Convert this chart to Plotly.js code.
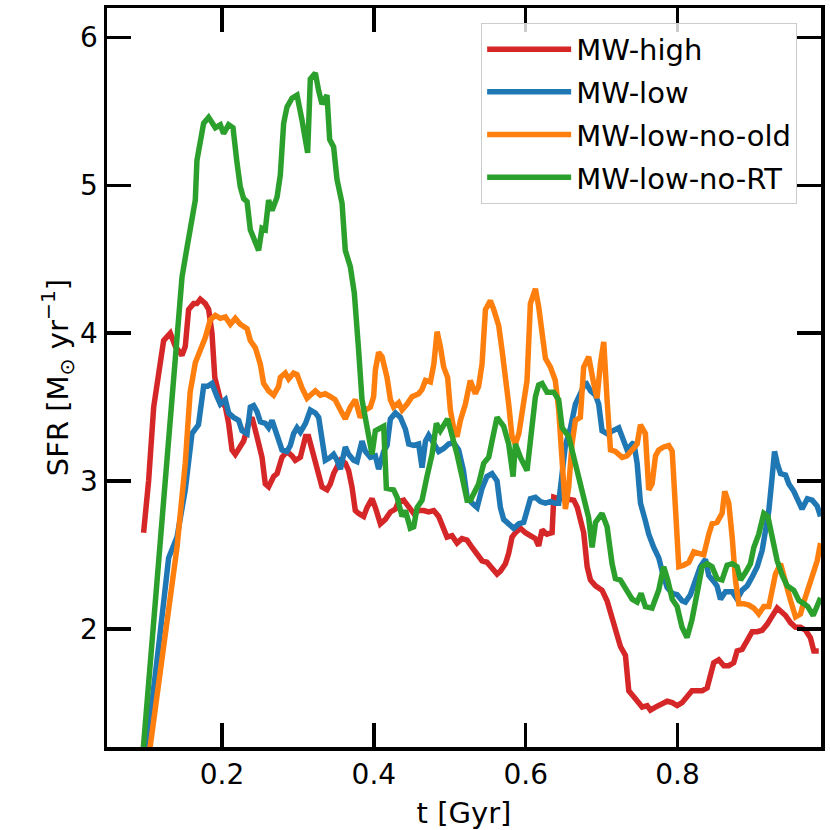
<!DOCTYPE html>
<html>
<head>
<meta charset="utf-8">
<script src="https://cdn.plot.ly/plotly-3.0.1.min.js"></script>
<style>html,body{margin:0;padding:0;background:#fff;}#chart{width:830px;height:830px;}</style>
</head>
<body>
<div id="chart"></div>
<script>
// Series names
const seriesNames = ["MW-high", "MW-low", "MW-low-no-old", "MW-low-no-RT"];

// MW-high
const tHigh = [0.0967,0.1033,0.110,0.1165,0.1231,0.1319,0.1385,0.1473,0.1516,0.156,0.1626,0.167,0.1714,0.178,0.1824,0.1868,0.1905,0.1978,0.2044,0.2087,0.2132,0.2175,0.224,0.2285,0.235,0.2395,0.246,0.2527,0.257,0.2614,0.268,0.2725,0.279,0.2856,0.2922,0.2966,0.3032,0.310,0.314,0.3207,0.3273,0.3317,0.3383,0.3427,0.347,0.3515,0.356,0.3624,0.3668,0.3712,0.3756,0.380,0.3866,0.391,0.3976,0.402,0.4086,0.4152,0.4218,0.4284,0.4327,0.4393,0.446,0.4525,0.459,0.4656,0.4722,0.4788,0.4854,0.492,0.4964,0.503,0.5096,0.516,0.5228,0.5294,0.536,0.5425,0.549,0.5557,0.5623,0.5667,0.5733,0.5776,0.582,0.5865,0.593,0.5996,0.6062,0.6128,0.6171,0.6216,0.628,0.6348,0.637,0.6435,0.6523,0.6633,0.668,0.6764,0.681,0.6853,0.692,0.7006,0.7072,0.7138,0.7204,0.7248,0.7314,0.7358,0.7424,0.749,0.7534,0.760,0.7643,0.771,0.7775,0.7863,0.793,0.7995,0.806,0.8126,0.819,0.8258,0.8324,0.839,0.8434,0.8477,0.8543,0.861,0.8675,0.874,0.8785,0.885,0.8917,0.8983,0.905,0.9115,0.918,0.9247,0.9313,0.9357,0.9423,0.949,0.9555,0.962,0.9686,0.975,0.9795,0.986];
const sfrHigh = [2.65,3.00,3.50,3.72,3.95,4.00,3.91,3.85,3.91,4.16,4.20,4.20,4.23,4.20,4.16,4.00,3.70,3.55,3.50,3.39,3.21,3.18,3.23,3.27,3.39,3.43,3.30,3.16,2.98,2.96,3.03,3.05,3.16,3.20,3.17,3.14,3.16,3.30,3.30,3.18,3.07,2.96,2.94,2.98,3.05,3.09,3.14,3.12,3.07,2.96,2.80,2.78,2.76,2.82,2.88,2.82,2.71,2.74,2.79,2.81,2.86,2.87,2.83,2.78,2.80,2.80,2.79,2.80,2.76,2.67,2.62,2.63,2.58,2.61,2.60,2.55,2.50,2.46,2.45,2.41,2.37,2.39,2.44,2.51,2.62,2.65,2.68,2.65,2.63,2.61,2.56,2.67,2.64,2.65,2.89,2.88,2.88,2.87,2.82,2.65,2.42,2.33,2.29,2.26,2.19,2.08,1.94,1.88,1.82,1.58,1.54,1.49,1.47,1.48,1.45,1.47,1.49,1.51,1.50,1.48,1.50,1.54,1.58,1.58,1.58,1.60,1.70,1.77,1.79,1.75,1.75,1.77,1.85,1.86,1.92,1.98,1.98,1.99,2.03,2.08,2.14,2.12,2.09,2.04,2.01,2.01,1.99,1.94,1.85,1.85];

// MW-low
const tLow = [0.0990,0.1012,0.1165,0.1297,0.1407,0.1516,0.1604,0.169,0.1758,0.181,0.1868,0.1934,0.1978,0.2044,0.2087,0.2153,0.2219,0.2263,0.233,0.2373,0.2416,0.246,0.2505,0.257,0.2614,0.2659,0.2725,0.279,0.2856,0.290,0.2943,0.2988,0.3032,0.310,0.3163,0.323,0.3273,0.3317,0.336,0.3427,0.347,0.3515,0.356,0.3624,0.3668,0.3734,0.3778,0.3844,0.3888,0.3954,0.402,0.4063,0.413,0.4174,0.4218,0.4284,0.435,0.4416,0.446,0.4525,0.459,0.4635,0.468,0.4722,0.4788,0.4854,0.492,0.4985,0.505,0.5117,0.518,0.5228,0.5294,0.536,0.5425,0.549,0.5557,0.5623,0.5667,0.571,0.5776,0.5842,0.591,0.5974,0.6018,0.6062,0.6128,0.6194,0.626,0.6326,0.639,0.6435,0.648,0.6523,0.659,0.6655,0.672,0.6787,0.6853,0.692,0.6962,0.7006,0.7072,0.716,0.7226,0.727,0.7336,0.7402,0.7424,0.7468,0.7512,0.7577,0.7621,0.7687,0.7753,0.7797,0.7863,0.793,0.7995,0.806,0.8104,0.817,0.8236,0.830,0.8368,0.8412,0.8477,0.852,0.8566,0.8632,0.872,0.8785,0.885,0.8917,0.8983,0.905,0.9115,0.916,0.9203,0.9247,0.9278,0.9313,0.9357,0.9423,0.9467,0.9532,0.960,0.964,0.971,0.9774,0.984,0.9884];
const sfrLow = [1.12,1.21,1.88,2.48,2.62,2.94,3.32,3.38,3.64,3.64,3.66,3.57,3.52,3.55,3.46,3.43,3.41,3.34,3.32,3.50,3.51,3.47,3.40,3.39,3.36,3.41,3.32,3.21,3.20,3.24,3.32,3.36,3.33,3.39,3.48,3.46,3.43,3.25,3.14,3.16,3.18,3.14,3.08,3.23,3.18,3.14,3.13,3.27,3.20,3.16,3.17,3.08,3.20,3.24,3.42,3.46,3.43,3.35,3.25,3.24,3.25,3.09,3.27,3.31,3.25,3.20,3.22,3.25,3.26,3.21,3.07,2.89,2.85,2.82,2.95,3.03,3.05,3.00,2.82,2.74,2.71,2.68,2.71,2.72,2.80,2.88,2.89,2.86,2.85,2.86,2.85,2.85,3.05,3.24,3.36,3.52,3.59,3.67,3.61,3.58,3.52,3.34,3.32,3.34,3.36,3.30,3.21,3.25,3.26,3.12,2.85,2.73,2.64,2.55,2.48,2.39,2.28,2.24,2.23,2.19,2.18,2.23,2.33,2.42,2.47,2.36,2.32,2.29,2.20,2.25,2.25,2.20,2.26,2.29,2.35,2.42,2.53,2.69,2.80,3.03,3.20,3.12,3.05,3.04,2.98,2.93,2.86,2.81,2.88,2.87,2.83,2.76];

// MW-low-no-old
const tNoOld = [0.1040,0.1055,0.123,0.1407,0.1516,0.158,0.1648,0.1714,0.178,0.1846,0.1912,0.1978,0.2044,0.211,0.2175,0.224,0.233,0.2373,0.244,0.2505,0.2548,0.2614,0.268,0.2746,0.2768,0.2834,0.2878,0.2943,0.2988,0.3054,0.312,0.3185,0.323,0.3295,0.336,0.3427,0.349,0.356,0.3624,0.369,0.3756,0.382,0.3888,0.3954,0.3997,0.402,0.4063,0.4108,0.4174,0.4218,0.426,0.4327,0.4372,0.4438,0.4503,0.459,0.4635,0.468,0.4745,0.479,0.4833,0.4876,0.492,0.4972,0.5008,0.505,0.5096,0.514,0.5206,0.527,0.5337,0.538,0.5425,0.547,0.5535,0.5579,0.5645,0.569,0.5733,0.5776,0.582,0.5865,0.591,0.5974,0.6018,0.6062,0.6128,0.6171,0.6216,0.626,0.6326,0.639,0.6435,0.6457,0.648,0.6523,0.6567,0.661,0.6655,0.672,0.6764,0.683,0.6896,0.694,0.6984,0.7028,0.7072,0.7117,0.7182,0.727,0.7336,0.7402,0.7468,0.7512,0.7577,0.7621,0.7665,0.771,0.7753,0.7818,0.7885,0.793,0.7973,0.8017,0.8083,0.815,0.8214,0.828,0.8346,0.8412,0.8456,0.852,0.8587,0.8622,0.8675,0.872,0.8763,0.8807,0.8873,0.894,0.9005,0.907,0.9137,0.9203,0.9247,0.929,0.9357,0.9423,0.949,0.9555,0.962,0.9663,0.971,0.9774,0.984,0.9884];
const sfrNoOld = [1.15,1.21,1.88,2.55,3.12,3.60,3.80,3.88,3.97,4.09,4.12,4.10,4.11,4.06,4.10,4.06,4.03,3.95,3.90,3.79,3.66,3.61,3.58,3.64,3.70,3.73,3.69,3.73,3.72,3.63,3.56,3.59,3.61,3.58,3.59,3.57,3.55,3.48,3.42,3.50,3.55,3.43,3.48,3.50,3.57,3.75,3.87,3.84,3.70,3.55,3.50,3.53,3.48,3.52,3.57,3.59,3.62,3.68,3.67,3.79,4.01,3.91,3.77,3.70,3.48,3.36,3.30,3.41,3.52,3.68,3.59,3.64,3.79,4.16,4.22,4.16,4.05,3.88,3.73,3.52,3.30,3.25,3.32,3.57,3.68,4.20,4.30,4.18,4.00,3.83,3.77,3.68,3.48,3.30,3.07,2.81,2.96,3.25,3.41,3.43,3.77,3.84,3.66,3.56,3.79,3.94,3.55,3.21,3.20,3.16,3.17,3.21,3.25,3.38,3.32,2.94,2.98,3.17,3.21,3.23,3.24,3.20,2.85,2.42,2.43,2.45,2.52,2.51,2.50,2.64,2.71,2.72,2.78,2.93,2.85,2.62,2.33,2.17,2.17,2.16,2.14,2.10,2.15,2.15,2.26,2.37,2.44,2.30,2.19,2.08,2.10,2.18,2.26,2.37,2.46,2.58];

// MW-low-no-RT
const tNoRT = [0.0955,0.1363,0.1407,0.1473,0.1539,0.1648,0.167,0.1758,0.1824,0.1912,0.1978,0.202,0.2087,0.2145,0.2198,0.2241,0.2285,0.233,0.2373,0.2416,0.2482,0.2527,0.257,0.2614,0.2659,0.2725,0.2768,0.2812,0.2856,0.2922,0.2988,0.3054,0.3128,0.3163,0.3229,0.3273,0.3317,0.3383,0.3418,0.347,0.3515,0.3581,0.3624,0.369,0.3743,0.380,0.3844,0.3976,0.402,0.413,0.4165,0.426,0.4306,0.4372,0.4416,0.448,0.4525,0.457,0.4635,0.470,0.4767,0.4823,0.4876,0.4972,0.503,0.5096,0.5162,0.5228,0.5272,0.5337,0.538,0.5447,0.5513,0.5557,0.5623,0.571,0.5776,0.5834,0.5865,0.593,0.6018,0.6062,0.6128,0.6171,0.6216,0.6282,0.637,0.6435,0.648,0.6567,0.6633,0.670,0.6787,0.683,0.6875,0.692,0.7006,0.7072,0.7138,0.7182,0.7248,0.7314,0.7402,0.7468,0.752,0.7577,0.7665,0.7752,0.7818,0.7871,0.793,0.7995,0.806,0.8126,0.819,0.8258,0.8324,0.839,0.8455,0.852,0.8587,0.8653,0.872,0.8785,0.883,0.8895,0.896,0.9005,0.907,0.9137,0.919,0.9247,0.9313,0.938,0.9445,0.9532,0.960,0.9663,0.9716,0.9787,0.984,0.9884];
const sfrNoRT = [1.14,3.68,3.95,4.38,4.58,4.90,5.17,5.42,5.46,5.39,5.41,5.35,5.41,5.39,5.15,4.99,4.91,4.89,4.70,4.64,4.56,4.71,4.70,4.90,4.83,4.92,5.07,5.42,5.53,5.59,5.61,5.44,5.22,5.72,5.76,5.64,5.55,5.61,5.31,5.26,5.04,4.88,4.56,4.45,4.27,3.88,3.55,3.18,3.34,3.37,2.95,2.94,2.89,2.76,2.80,2.68,2.69,2.82,2.87,3.03,3.18,3.39,3.34,3.42,3.32,3.18,3.03,2.87,2.87,2.94,2.98,3.12,3.16,3.27,3.43,3.37,3.25,3.03,3.25,3.16,3.07,3.27,3.57,3.65,3.66,3.60,3.60,3.55,3.36,3.30,3.16,3.03,2.87,2.75,2.55,2.72,2.78,2.69,2.44,2.34,2.33,2.27,2.20,2.18,2.24,2.15,2.14,2.26,2.42,2.33,2.20,2.15,2.01,1.94,2.06,2.24,2.42,2.44,2.42,2.34,2.33,2.43,2.44,2.42,2.33,2.38,2.44,2.55,2.64,2.78,2.76,2.62,2.46,2.36,2.29,2.26,2.19,2.17,2.15,2.09,2.17,2.21];

// Axis ticks
const xTicks = [0.2, 0.4, 0.6, 0.8];
const xTickLabels = ["0.2", "0.4", "0.6", "0.8"];
const yTicks = [2, 3, 4, 5, 6];
const yTickLabels = ["2", "3", "4", "5", "6"];

const colors = ["#d62728", "#1f77b4", "#ff7f0e", "#2ca02c"];
const xs = [tHigh, tLow, tNoOld, tNoRT];
const ys = [sfrHigh, sfrLow, sfrNoOld, sfrNoRT];

const traces = seriesNames.map((name, i) => ({
  type: "scatter",
  mode: "lines",
  name: name,
  x: xs[i],
  y: ys[i],
  legendgroup: "g" + i,
  line: {color: colors[i], width: 5.5}
}));

const FONT = "DejaVu Sans, Verdana, sans-serif";
const axisCommon = {
  showline: true, linecolor: "#000", linewidth: 3.5, mirror: "allticks",
  ticks: "inside", ticklen: 24, tickwidth: 3.5, tickcolor: "#000",
  showgrid: false, zeroline: false,
  tickfont: {family: FONT, size: 28, color: "#000"}
};

const layout = {
  width: 830, height: 830,
  margin: {l: 107, r: 9, t: 8, b: 83},
  paper_bgcolor: "#fff", plot_bgcolor: "#fff",
  font: {family: FONT, color: "#000"},
  showlegend: true,
  legend: {
    x: 0.524, xanchor: "left", y: 0.98, yanchor: "top",
    bgcolor: "rgba(255,255,255,0.8)", bordercolor: "#cccccc", borderwidth: 1,
    font: {family: FONT, size: 29, color: "#000"},
    tracegroupgap: 2, itemwidth: 84
  },
  xaxis: Object.assign({}, axisCommon, {
    range: [0.0485, 0.989],
    tickmode: "array", tickvals: xTicks, ticktext: xTickLabels,
    title: {text: "t [Gyr]", font: {family: FONT, size: 29, color: "#000"}, standoff: 14}
  }),
  yaxis: Object.assign({}, axisCommon, {
    range: [1.2, 6.2],
    tickmode: "array", tickvals: yTicks, ticktext: yTickLabels,
    title: {text: "SFR [M<sub>⊙</sub> yr<sup>−1</sup>]", font: {family: FONT, size: 29, color: "#000"}, standoff: 4}
  })
};

Plotly.newPlot("chart", traces, layout, {staticPlot: true, displayModeBar: false});
</script>
</body>
</html>
